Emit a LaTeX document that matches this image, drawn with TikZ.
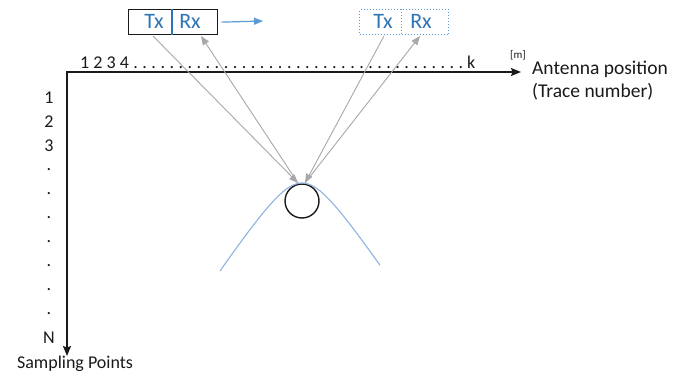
\documentclass[tikz,border=0pt]{standalone}
\usepackage{fontspec}
\setmainfont{Carlito}
\usetikzlibrary{arrows.meta,calc}
\definecolor{txtblue}{HTML}{2E75B6}
\definecolor{lineblue}{HTML}{5B9BD5}
\definecolor{curveblue}{HTML}{8FB4DE}
\definecolor{raygray}{HTML}{A8A8A8}
\definecolor{ink}{HTML}{1A1A1A}
\tikzset{
  lbl/.style={inner sep=0pt, text=ink, font=\fontsize{18}{18}\selectfont},
  txrx/.style={inner sep=0pt, text=txtblue, font=\fontsize{22}{22}\selectfont},
  axisline/.style={line width=1.4pt, draw=ink, {Stealth[length=10pt,width=8pt,inset=1.5pt]}-{Stealth[length=10pt,width=8pt,inset=1.5pt]}},
  ray/.style={line width=0.9pt, draw=raygray, -{Triangle[length=9pt,width=7pt]}},
  antbox/.style={minimum width=89pt, minimum height=25pt, inner sep=0pt, anchor=north west},
}
\begin{document}
\begin{tikzpicture}[x=1pt,y=-1pt]
\useasboundingbox[fill=white] (0,0) rectangle (683,380);
% axes
\coordinate (O) at (67,72);
\coordinate (xend) at (521,72);
\coordinate (yend) at (67,356);
\draw[axisline] (yend) -- (O) -- (xend);
% horizontal labels
\node[lbl, anchor=base west] (trace) at (80,68) {1 2 3 4\foreach \j in {1,...,37}{\hspace{4.5pt}.}\hspace{4pt}k};
\node[inner sep=0pt, text=ink, font=\fontsize{11}{11}\selectfont] (unit) at (518,55) {[m]};
\node[lbl, anchor=north west, align=left, font=\fontsize{19.5}{23}\selectfont] (ant) at (532,61) {Antenna position\\(Trace number)};
% vertical labels
\foreach [count=\i] \t in {1,2,3,.,.,.,.,.,.,.,N}
  \node[lbl] (v\i) at (49,{98+(\i-1)*24}) {\t};
\node[lbl] (samp) at (75,364) {Sampling Points};
% antenna boxes
\node[antbox, draw=ink, line width=1.3pt] (box1) at (128,9) {};
\draw[txtblue, line width=1.2pt] ($(box1.north west)+(44,0)$) -- ($(box1.south west)+(44,0)$);
\node[txrx] (tx1) at (154,21.5) {Tx};
\node[txrx] (rx1) at (190,21.5) {Rx};
\node[antbox, draw=lineblue, line width=1pt, dotted] (box2) at (359,9) {};
\draw[lineblue, line width=1pt, dotted] ($(box2.north west)+(42,0)$) -- ($(box2.south west)+(42,0)$);
\node[txrx] (tx2) at (383,21.5) {Tx};
\node[txrx] (rx2) at (421,21.5) {Rx};
\coordinate (mv) at (263,21);
\draw[lineblue, line width=1.2pt, -{Triangle[length=9pt,width=7pt]}] ($(box1.east)+(3,0)$) -- (mv);
% target
\node[circle, draw=ink, line width=1.4pt, minimum size=34pt, inner sep=0pt] (obj) at (302,201) {};
\draw[curveblue, line width=1.1pt] plot[domain=-82:78, samples=80, smooth] ({302+\x}, {183+1.5*(sqrt(28*28+\x*\x)-28)});
% rays
\coordinate (t1) at (153,36);
\coordinate (r1) at (201,36);
\coordinate (t2) at (384,36);
\coordinate (r2) at (420,36);
\coordinate (hitL) at (298,183);
\coordinate (hitR) at (305,183);
\draw[ray] (t1) -- (hitL);
\draw[ray] (hitL) -- (r1);
\draw[ray] (t2) -- (hitR);
\draw[ray] (hitR) -- (r2);
\end{tikzpicture}
\end{document}
